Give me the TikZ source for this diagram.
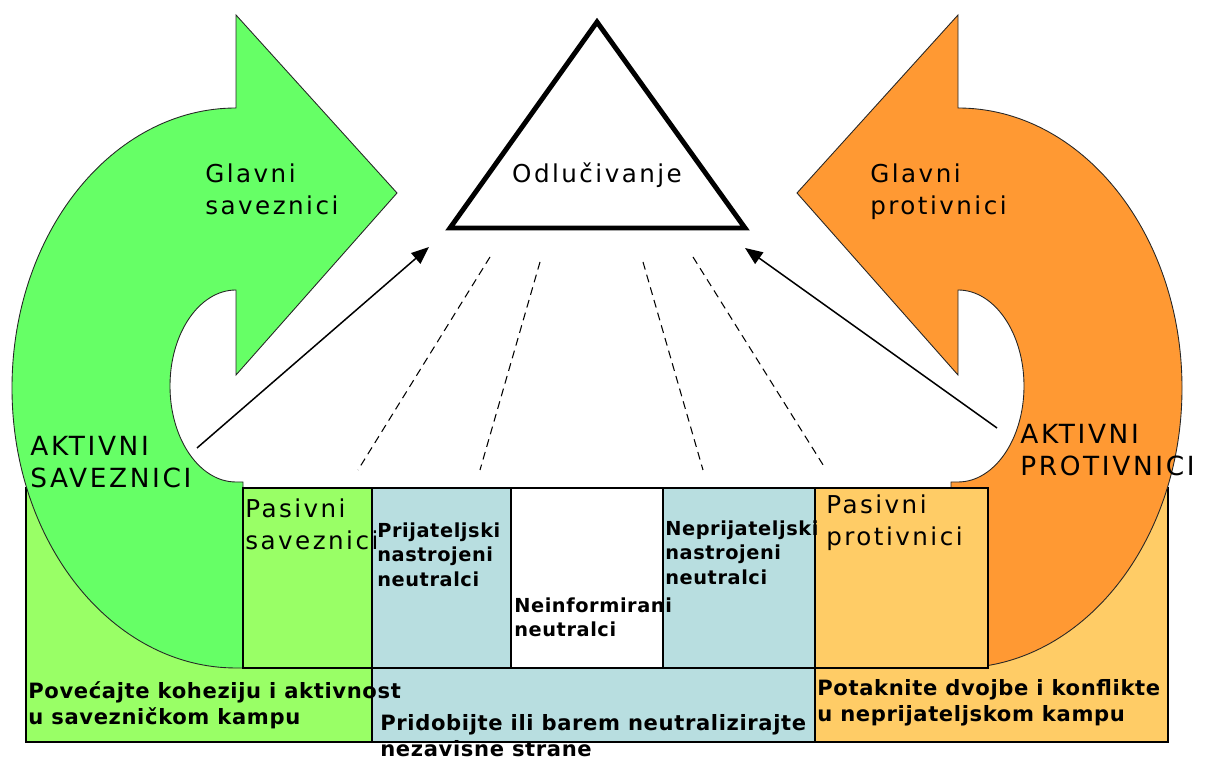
\documentclass[tikz,border=0pt]{standalone}
\usepackage{fontspec}
\setmainfont{DejaVu Sans}
\newfontfamily\lblfont[LetterSpace=10]{DejaVu Sans}
\newfontfamily\boxfont[LetterSpace=3]{DejaVu Sans}
\usetikzlibrary{arrows.meta}

\definecolor{tamnozelena}{HTML}{66FF66}
\definecolor{svijetlozelena}{HTML}{99FF66}
\definecolor{tamnonarancasta}{HTML}{FF9933}
\definecolor{svijetlonarancasta}{HTML}{FFCC66}
\definecolor{svijetloplava}{HTML}{B8DEE0}

\begin{document}
\begin{tikzpicture}[
    x=0.2mm, y=0.2mm,
    line join=miter,
    okvir/.style={draw=black, line width=1.1pt},
    strelica/.style={draw=black!85, line width=0.5pt},
    veza/.style={line width=0.85pt, -{Triangle[length=10pt,width=8pt]}},
    crtkano/.style={line width=0.6pt, dash pattern=on 4.5pt off 3pt},
    trokut/.style={line width=2.8pt},
    natpis/.style={inner sep=0pt, anchor=north west, align=left,
        font=\lblfont\fontsize{14}{18.2}\selectfont},
    velikinatpis/.style={natpis, font=\lblfont\fontsize{15}{18.2}\selectfont},
    mali/.style={natpis, font=\boxfont\bfseries\fontsize{11}{14}\selectfont},
    donji/.style={natpis, font=\boxfont\bfseries\fontsize{12}{14.8}\selectfont}
]
\useasboundingbox (0,0) rectangle (1205,759);

% -------------------------------------------------
% Velike pozadinske kutije (saveznici / protivnici)
% -------------------------------------------------
\draw[okvir, fill=svijetlozelena] (26,17) rectangle (372,271);
\draw[okvir, fill=svijetlonarancasta] (815,17) rectangle (1168,271);

% -------------------------------------------------
% Zakrivljene strelice
% -------------------------------------------------
\filldraw[strelica, fill=tamnozelena]
    (236,744) -- (397,566) -- (236,384) -- (236,469)
    arc[start angle=90, end angle=270, x radius=66, y radius=96]
    -- (243,277) -- (243,91) -- (236,91)
    arc[start angle=270, end angle=90, x radius=224, y radius=280]
    -- cycle;

\filldraw[strelica, fill=tamnonarancasta]
    (958,744) -- (797,566) -- (958,384) -- (958,469)
    arc[start angle=90, end angle=-90, x radius=66, y radius=96]
    -- (951,277) -- (951,91) -- (958,91)
    arc[start angle=-90, end angle=90, x radius=224, y radius=280]
    -- cycle;

% -------------------------------------------------
% Red kutija
% -------------------------------------------------
\draw[okvir, fill=svijetlozelena] (243,91) rectangle (372,271);
\draw[okvir, fill=svijetloplava] (372,91) rectangle (511,271);
\draw[okvir, fill=white] (511,91) rectangle (663,271);
\draw[okvir, fill=svijetloplava] (663,91) rectangle (815,271);
\draw[okvir, fill=svijetlonarancasta] (815,91) rectangle (988,271);
\draw[okvir, fill=svijetloplava] (372,17) rectangle (815,91);

% -------------------------------------------------
% Trokut odlucivanja
% -------------------------------------------------
\coordinate (V) at (597,737);  % vrh
\coordinate (A) at (450,531);  % lijevo
\coordinate (B) at (745,531);  % desno
\draw[trokut] (A) -- (V) -- (B) -- cycle;
\node[anchor=base, inner sep=0pt, font=\lblfont\fontsize{14}{18}\selectfont]
    (odluka) at (597,576) {Odlučivanje};

% -------------------------------------------------
% Strelice prema trokutu
% -------------------------------------------------
\coordinate (Lpoc) at (197,311);
\coordinate (Lkraj) at (429,512);
\coordinate (Dpoc) at (997,331);
\coordinate (Dkraj) at (745,511);
\draw[veza] (Lpoc) -- (Lkraj);
\draw[veza] (Dpoc) -- (Dkraj);

% Isprekidane linije
\coordinate (c1a) at (490,502); \coordinate (c1b) at (358,289);
\coordinate (c2a) at (540,497); \coordinate (c2b) at (480,289);
\coordinate (c3a) at (643,497); \coordinate (c3b) at (703,289);
\coordinate (c4a) at (693,502); \coordinate (c4b) at (825,291);
\draw[crtkano] (c1a) -- (c1b);
\draw[crtkano] (c2a) -- (c2b);
\draw[crtkano] (c3a) -- (c3b);
\draw[crtkano] (c4a) -- (c4b);

% -------------------------------------------------
% Natpisi
% -------------------------------------------------
\node[natpis] (glavnisav) at (205,596) {Glavni\\saveznici};
\node[natpis] (glavniprot) at (870,596) {Glavni\\protivnici};
\node[velikinatpis] (aktivsav) at (30,323) {AKTIVNI\\SAVEZNICI};
\node[velikinatpis] (aktivprot) at (1020,335) {AKTIVNI\\PROTIVNICI};
\node[natpis] (pasivsav) at (245,261) {Pasivni\\saveznici};
\node[natpis] (pasivprot) at (826,265) {Pasivni\\protivnici};
\node[mali] (prijatelji) at (377,237) {Prijateljski\\nastrojeni\\neutralci};
\node[mali] (neinform) at (514,162) {Neinformirani\\neutralci};
\node[mali] (neprijatelji) at (665,239) {Neprijateljski\\nastrojeni\\neutralci};
\node[donji] (kohezija) at (28,78) {Povećajte koheziju i aktivnost\\u savezničkom kampu};
\node[donji] (neutral) at (380,45) {Pridobijte ili barem neutralizirajte\\nezavisne strane};
\node[donji] (konflikt) at (817,80) {Potaknite dvojbe i konflikte\\u neprijateljskom kampu};

\end{tikzpicture}
\end{document}
